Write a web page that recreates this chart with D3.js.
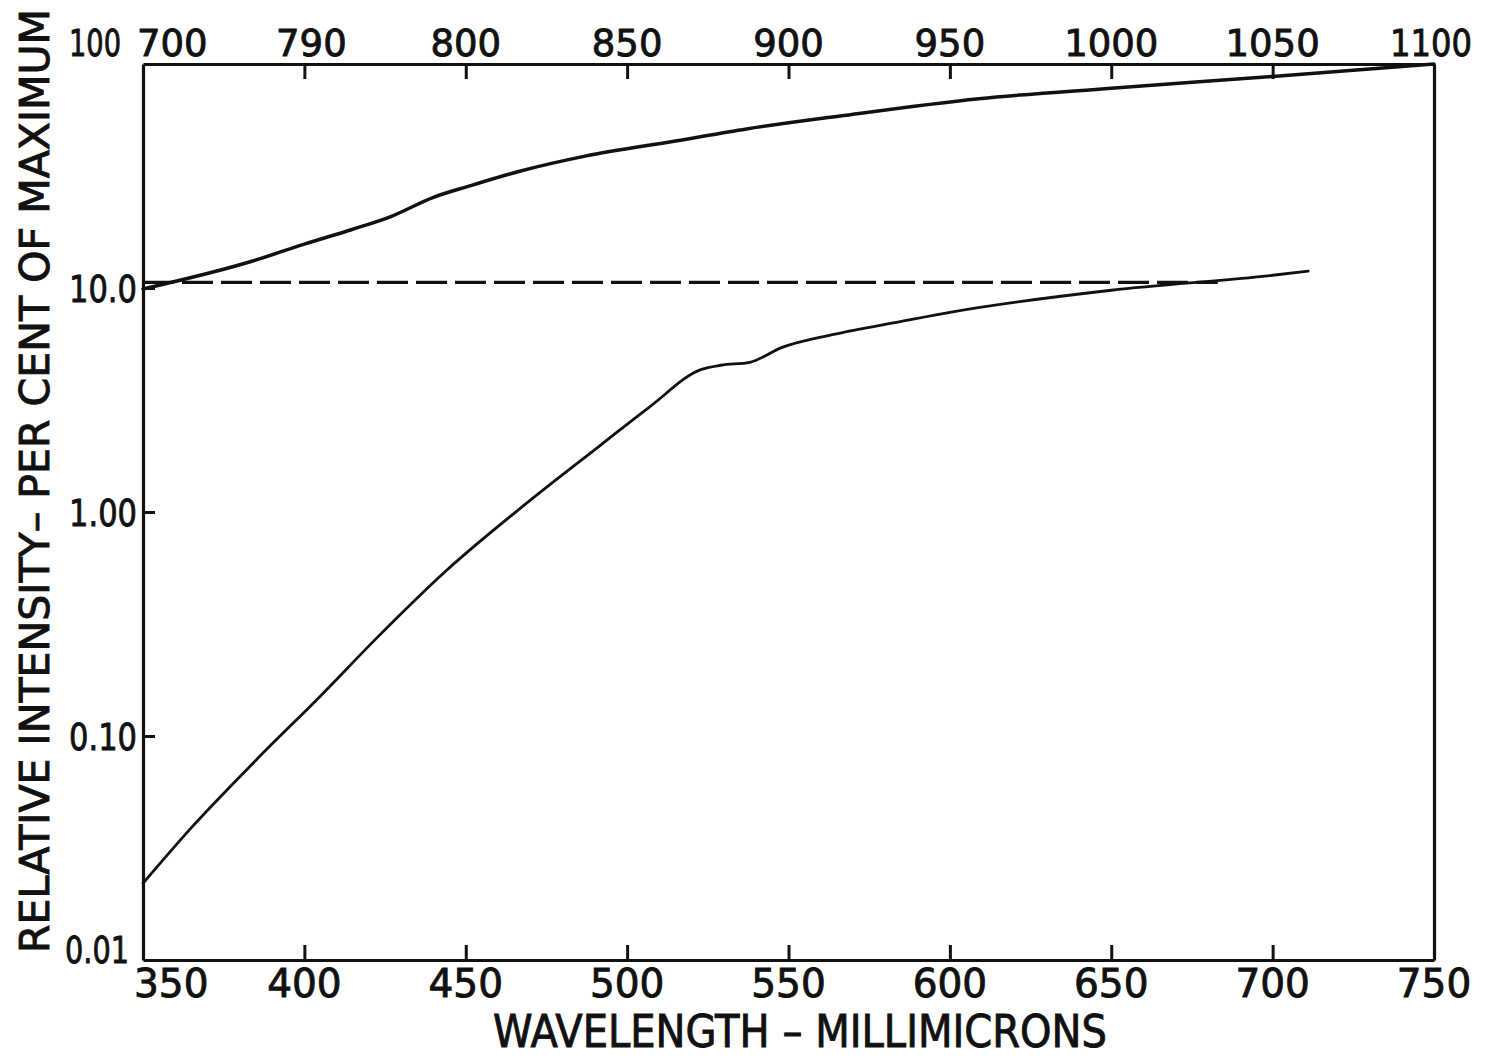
<!DOCTYPE html>
<html>
<head>
<meta charset="utf-8">
<script src="https://cdn.jsdelivr.net/npm/d3@7"></script>
<style>
  html, body { margin: 0; padding: 0; background: #ffffff; }
  svg { display: block; }
  text { font-family: "DejaVu Sans", "Liberation Sans", sans-serif; fill: #111; stroke: #111; stroke-width: 0.9; }
</style>
</head>
<body>
<script>
// ---------------- data ----------------
const bottomTickValues = [350, 400, 450, 500, 550, 600, 650, 700, 750];
const bottomTickLabels = ["350", "400", "450", "500", "550", "600", "650", "700", "750"];
const topTickValues = [700, 750, 800, 850, 900, 950, 1000, 1050, 1100];
const topTickLabels = ["700", "790", "800", "850", "900", "950", "1000", "1050", "1100"];
const yTickValues = [0.01, 0.1, 1, 10, 100];
const yTickLabels = ["0.01", "0.10", "1.00", "10.0", "100"];

// upper curve, read against the top wavelength axis (700-1100)
const upperWavelength = [700, 734, 750, 765, 777, 790, 801, 817, 837, 865, 887, 916, 959, 1000, 1050, 1100];
const upperIntensity  = [9.9, 13.2, 15.7, 18.3, 20.9, 25.4, 28.5, 33.3, 38.8, 45.3, 51.3, 58.6, 70, 78, 88, 100];

// lower curve, read against the bottom wavelength axis (350-750)
const lowerWavelength = [350, 365, 385, 405, 422, 444, 468, 492, 507, 523, 529, 538, 548, 564, 585, 600, 650, 700, 711];
const lowerIntensity  = [0.022, 0.039, 0.078, 0.151, 0.27, 0.548, 1.07, 2.0, 2.95, 4.33, 4.52, 4.66, 5.43, 6.21, 7.1, 7.79, 9.77, 11.4, 11.9];

// dashed reference line (bottom axis)
const dashWavelength = [350, 683];
const dashIntensity  = [10.6, 10.6];

const xTitle = "WAVELENGTH – MILLIMICRONS";
const yTitle = "RELATIVE INTENSITY– PER CENT OF MAXIMUM";

// ---------------- layout ----------------
const W = 1485, H = 1058;
const L = 143, R = 1434, T = 64, B = 960;
const ink = "#111";

const svg = d3.select("body").append("svg").attr("width", W).attr("height", H);
svg.append("rect").attr("width", W).attr("height", H).attr("fill", "#fff");

const x = d3.scaleLinear().domain([350, 750]).range([L, R]);
const xTop = d3.scaleLinear().domain([700, 1100]).range([L, R]);
const y = d3.scaleLog().domain([0.01, 100]).range([B, T]);

function styleAxis(g) {
  g.selectAll("path.domain").attr("stroke", ink).attr("stroke-width", 3.2);
  g.selectAll(".tick line").attr("stroke", ink).attr("stroke-width", 3);
  g.selectAll(".tick text").remove();
}

// bottom axis, inward ticks
svg.append("g").attr("transform", `translate(0,${B})`)
  .call(d3.axisBottom(x).tickValues(bottomTickValues.slice(1, -1)).tickSizeInner(-15).tickSizeOuter(0).tickFormat(""))
  .call(styleAxis);
// top axis
svg.append("g").attr("transform", `translate(0,${T})`)
  .call(d3.axisTop(xTop).tickValues(topTickValues.slice(1, -1)).tickSizeInner(-15).tickSizeOuter(0).tickFormat(""))
  .call(styleAxis);
// left axis
svg.append("g").attr("transform", `translate(${L},0)`)
  .call(d3.axisLeft(y).tickValues(yTickValues.slice(1, -1)).tickSizeInner(-12).tickSizeOuter(0).tickFormat(""))
  .call(styleAxis);
// right axis (no ticks)
svg.append("g").attr("transform", `translate(${R},0)`)
  .call(d3.axisRight(y).tickValues([]).tickSizeOuter(0))
  .call(styleAxis);

// tick labels
const bottomG = svg.append("g");
bottomTickValues.forEach((v, i) => {
  const first = i === 0;
  bottomG.append("text")
    .attr("x", first ? x(v) - 9 : x(v))
    .attr("y", 997)
    .attr("text-anchor", first ? "start" : "middle")
    .attr("font-size", 39)
    .text(bottomTickLabels[i]);
});
const topG = svg.append("g");
topTickValues.forEach((v, i) => {
  let ax = xTop(v), anchor = "middle";
  if (i === 0) { ax = xTop(v) - 6; anchor = "start"; }
  if (i === 1) { ax = xTop(v) + 7; }
  const lab = topTickLabels[i];
  const t = topG.append("text")
    .attr("x", ax)
    .attr("y", 56)
    .attr("text-anchor", anchor)
    .attr("font-size", 37)
    .text(lab);
  if (i === topTickValues.length - 1) {
    t.attr("x", xTop(v) - 44).attr("text-anchor", "start")
     .attr("textLength", 82).attr("lengthAdjust", "spacingAndGlyphs");
  }
});
const leftG = svg.append("g");
yTickValues.forEach((v, i) => {
  let tx = L - 6, ty = y(v) + 14, len = 68;
  if (v === 100) { tx = L - 74; ty = T - 8; len = 52; }
  if (v === 0.01) { tx = L - 78; ty = B + 3; len = 64; }
  const t = leftG.append("text")
    .attr("y", ty)
    .attr("font-size", 38)
    .attr("textLength", len).attr("lengthAdjust", "spacingAndGlyphs")
    .text(yTickLabels[i]);
  if (v === 100 || v === 0.01) t.attr("x", tx).attr("text-anchor", "start");
  else t.attr("x", tx - len).attr("text-anchor", "start");
});

// axis titles
svg.append("text")
  .attr("x", 493).attr("y", 1047)
  .attr("font-size", 44)
  .attr("textLength", 614).attr("lengthAdjust", "spacingAndGlyphs")
  .text(xTitle);
svg.append("text")
  .attr("transform", "translate(49,953) rotate(-90)")
  .attr("x", 0).attr("y", 0)
  .attr("font-size", 40)
  .attr("textLength", 944).attr("lengthAdjust", "spacingAndGlyphs")
  .text(yTitle);

// curves
const upperLine = d3.line().x(d => xTop(d[0])).y(d => y(d[1])).curve(d3.curveMonotoneX);
const lowerLine = d3.line().x(d => x(d[0])).y(d => y(d[1])).curve(d3.curveMonotoneX);
const straight = d3.line().x(d => x(d[0])).y(d => y(d[1]));

svg.append("path")
  .datum(upperWavelength.map((w, i) => [w, upperIntensity[i]]))
  .attr("d", upperLine)
  .attr("fill", "none").attr("stroke", ink).attr("stroke-width", 3.5).attr("stroke-linecap", "round");

svg.append("path")
  .datum(lowerWavelength.map((w, i) => [w, lowerIntensity[i]]))
  .attr("d", lowerLine)
  .attr("fill", "none").attr("stroke", ink).attr("stroke-width", 2.8).attr("stroke-linecap", "round");

svg.append("path")
  .datum(dashWavelength.map((w, i) => [w, dashIntensity[i]]))
  .attr("d", straight)
  .attr("fill", "none").attr("stroke", ink).attr("stroke-width", 3.2)
  .attr("stroke-dasharray", "31 8");
</script>
</body>
</html>
